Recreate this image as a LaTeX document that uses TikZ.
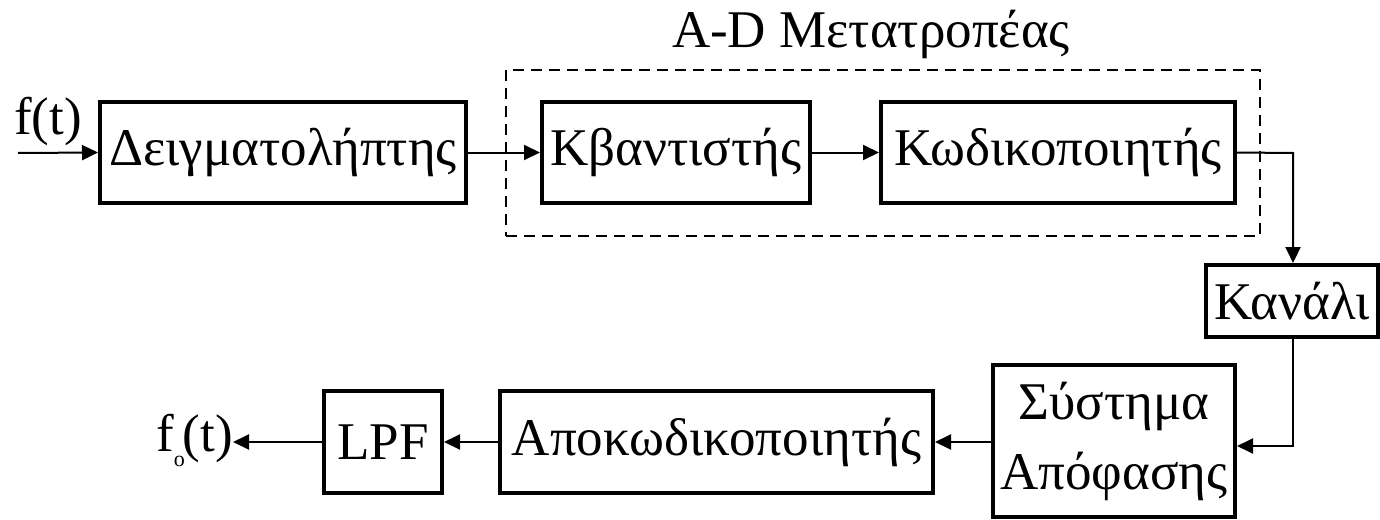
\documentclass[tikz,border=0pt]{standalone}
\usepackage{fontspec}
\setmainfont{Liberation Serif}
\usetikzlibrary{arrows.meta}
\tikzset{
  blk/.style={draw, line width=4pt, inner sep=0pt, align=center,
    font=\fontsize{53}{70}\selectfont},
  lbl/.style={inner sep=0pt, font=\fontsize{53}{64}\selectfont},
  conn/.style={line width=2pt, -{Triangle[length=16pt,width=15pt]}},
  grp/.style={draw, line width=2pt, dash pattern=on 11pt off 7pt}
}
\begin{document}
\begin{tikzpicture}[x=1pt,y=-1pt]
\useasboundingbox (0,0) rectangle (1380,519);
% group frame
\node[grp, minimum width=754pt, minimum height=166pt] (adc) at (883,153) {};
\node[lbl] (title) at (871,34) {A-D Μετατροπέας};
% blocks
\node[blk, minimum width=366pt, minimum height=101pt] (samp) at (283,152.5) {Δειγματολήπτης};
\node[blk, minimum width=268pt, minimum height=101pt] (quant) at (676,152.5) {Κβαντιστής};
\node[blk, minimum width=354pt, minimum height=101pt] (enc) at (1058,152.5) {Κωδικοποιητής};
\node[blk, minimum width=172pt, minimum height=72pt] (chan) at (1292,301) {Κανάλι};
\node[blk, minimum width=242pt, minimum height=152pt] (dec) at (1114,441) {Σύστημα\\Απόφασης};
\node[blk, minimum width=433pt, minimum height=102pt] (decod) at (716.5,442) {Αποκωδικοποιητής};
\node[blk, minimum width=118pt, minimum height=102pt] (lpf) at (383,442) {LPF};
% input / output
\coordinate (in) at (18,153);
\node[lbl, anchor=south west] (fin) at (14,146) {f(t)};
\node[lbl, anchor=east] (fout) at (233,440) {f\raisebox{-15pt}{\fontsize{22}{22}\selectfont o}\kern-2pt(t)};
% connectors
\draw[conn] (in) -- (samp.west);
\draw[conn] (samp.east) -- (quant.west);
\draw[conn] (quant.east) -- (enc.west);
\coordinate (c1) at (1293,153);
\coordinate (c2) at (1293,446);
\draw[conn] (enc.east) -- (c1) -- (chan.north -| c1);
\draw[conn] (chan.south -| c2) -- (c2) -- (dec.east |- c2);
\draw[conn] (dec.west |- decod.east) -- (decod.east);
\draw[conn] (decod.west) -- (lpf.east);
\draw[conn] (lpf.west) -- (lpf.west -| fout.east);
\end{tikzpicture}
\end{document}
